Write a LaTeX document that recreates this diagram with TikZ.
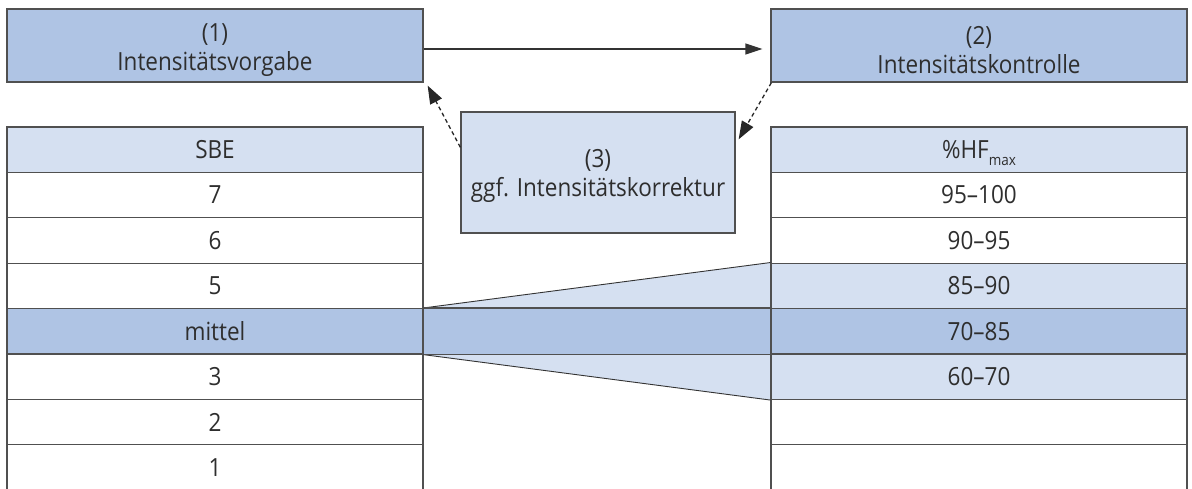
\documentclass[tikz,border=0pt]{standalone}
\usepackage{fontspec}
\setmainfont{Open Sans}[FakeStretch=0.9]
\usetikzlibrary{arrows.meta,calc,backgrounds}
\definecolor{mblue}{HTML}{AFC4E4}
\definecolor{lblue}{HTML}{D5E0F1}
\definecolor{bord}{HTML}{505050}
\definecolor{txt}{HTML}{2E2E2E}
\tikzset{
  lbl/.style={text=txt, font=\fontsize{25}{29}\selectfont},
  cell/.style={lbl, draw=bord, line width=1.3pt, minimum width=416pt, minimum height=45.4pt, inner sep=0pt, text height=17.8pt, text depth=0pt, anchor=center},
  topbox/.style={lbl, draw=bord, line width=1.3pt, fill=mblue, minimum width=416pt, minimum height=73pt, align=center, inner sep=0pt},
  midbox/.style={lbl, draw=bord, line width=1.3pt, fill=lblue, minimum width=274pt, minimum height=121pt, align=center, inner sep=0pt},
  solidarrow/.style={draw=black!80, line width=1.3pt, -{Triangle[length=17pt,width=11pt]}},
  dasharrow/.style={draw=black!85, line width=1.3pt, dash pattern=on 4pt off 3pt, -{Triangle[length=18pt,width=13pt]}},
  funnelline/.style={draw=black!80, line width=0.9pt},
  bandline/.style={draw=bord, line width=1.3pt}
}
\begin{document}
\begin{tikzpicture}[x=1pt,y=-1pt]
\useasboundingbox (0,0) rectangle (1192,489);
% top boxes
\node[topbox] (box1) at (215,45.5) {\rule{0pt}{28pt}(1)\\Intensitätsvorgabe};
\node[topbox] (box2) at (979,45.5) {\rule{0pt}{28pt}(2)\\Intensitätskontrolle};
\node[midbox] (box3) at (598,172.5) {\rule{0pt}{26pt}(3)\\ggf. Intensitätskorrektur};
% left table
\node[cell, fill=lblue] (L0) at (215,149.7) {SBE};
\node[cell, fill=white] (L1) at (215,195.1) {7};
\node[cell, fill=white] (L2) at (215,240.5) {6};
\node[cell, fill=white] (L3) at (215,285.9) {5};
\node[cell, fill=mblue] (L4) at (215,331.3) {mittel};
\node[cell, fill=white] (L5) at (215,376.7) {3};
\node[cell, fill=white] (L6) at (215,422.1) {2};
\node[cell, fill=white] (L7) at (215,467.5) {1};
% right table
\node[cell, fill=lblue] (R0) at (979,149.7) {\%HF\raisebox{-7pt}{\fontsize{15}{15}\selectfont max}};
\node[cell, fill=white] (R1) at (979,195.1) {95–100};
\node[cell, fill=white] (R2) at (979,240.5) {90–95};
\node[cell, fill=lblue] (R3) at (979,285.9) {85–90};
\node[cell, fill=mblue] (R4) at (979,331.3) {70–85};
\node[cell, fill=lblue] (R5) at (979,376.7) {60–70};
\node[cell, fill=white] (R6) at (979,422.1) {};
\node[cell, fill=white] (R7) at (979,467.5) {};
% funnel
\begin{pgfonlayer}{background}
\fill[lblue] (L4.north east) -- (R3.north west) -- (R5.south west) -- (L4.south east) -- cycle;
\fill[mblue] (L4.north east) rectangle (R4.south west);
\end{pgfonlayer}
\draw[funnelline] (L4.north east) -- (R3.north west);
\draw[funnelline] (L4.south east) -- (R5.south west);
\draw[bandline] (L4.north east) -- (R4.north west);
\draw[bandline] (L4.south east) -- (R4.south west);
% arrows
\draw[solidarrow] ($(box1.east)+(0,3.5)$) -- ($(box2.west)+(-8,3.5)$);
\draw[dasharrow] ($(box3.north west)+(0,36)$) -- ($(box1.south east)+(4,3)$);
\draw[dasharrow] ($(box2.south west)+(1,0)$) -- ($(box3.north east)+(3,28)$);
\end{tikzpicture}
\end{document}
